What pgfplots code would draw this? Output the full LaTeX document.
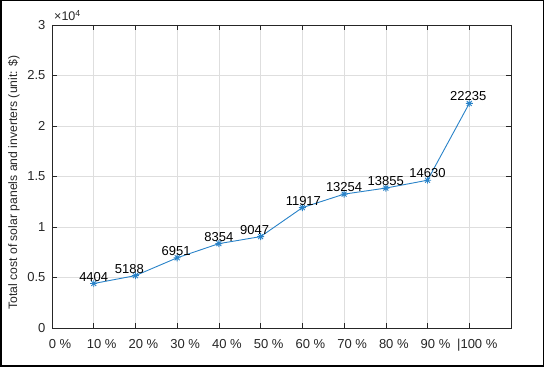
\documentclass[border=0pt]{standalone}
\usepackage{pgfplots}
\pgfplotsset{compat=1.18}
\usepackage{pgfplotstable}
\usepackage{fontspec}
\setmainfont{Liberation Sans}

\pgfplotstableread{
x y dx
1 4404 0
2 5188 -6
3 6951 -1
4 8354 0
5 9047 -6
6 11917 1
7 13254 0
8 13855 0
9 14630 0
10 22235 -1
}\datatable

\definecolor{mblue}{RGB}{40,130,200}
\definecolor{axgray}{RGB}{38,38,38}
\definecolor{gridgray}{RGB}{222,222,222}

\pgfdeclareplotmark{mstar}{%
  \pgfpathmoveto{\pgfqpoint{\pgfplotmarksize}{0pt}}%
  \pgfpathlineto{\pgfqpoint{-\pgfplotmarksize}{0pt}}%
  \pgfpathmoveto{\pgfqpoint{0pt}{\pgfplotmarksize}}%
  \pgfpathlineto{\pgfqpoint{0pt}{-\pgfplotmarksize}}%
  \pgfpathmoveto{\pgfqpoint{0.707\pgfplotmarksize}{0.707\pgfplotmarksize}}%
  \pgfpathlineto{\pgfqpoint{-0.707\pgfplotmarksize}{-0.707\pgfplotmarksize}}%
  \pgfpathmoveto{\pgfqpoint{-0.707\pgfplotmarksize}{0.707\pgfplotmarksize}}%
  \pgfpathlineto{\pgfqpoint{0.707\pgfplotmarksize}{-0.707\pgfplotmarksize}}%
  \pgfusepathqstroke}

\begin{document}
\begin{tikzpicture}
\draw[line width=1.5pt] (0.75pt,0.75pt) rectangle (543.25pt,366.25pt);
\begin{axis}[
  at={(52pt,39pt)}, anchor=south west,
  scale only axis, width=459pt, height=303pt,
  xmin=0, xmax=11, ymin=0, ymax=30000,
  xtick={0,...,11},
  xticklabels={0 \%,10 \%,20 \%,30 \%,40 \%,50 \%,60 \%,70 \%,80 \%,90 \%,\textbar100 \%,{}},
  ytick={0,5000,...,30000},
  yticklabels={0,0.5,1,1.5,2,2.5,3},
  scaled y ticks=false,
  tick pos=both, tick align=inside, major tick length=5pt,
  tick style={axgray, line width=0.6pt},
  axis line style={axgray, line width=0.8pt},
  grid=major, major grid style={gridgray, line width=0.5pt},
  ticklabel style={font=\fontsize{13}{15}\selectfont, text=axgray},
  xticklabel style={xshift=8pt, yshift=-7.5pt},
  yticklabel style={xshift=-3pt},
  every axis y label/.style={at={(axis description cs:-0.0828,0.48)}, rotate=90, anchor=center, font=\fontsize{12.2}{14}\selectfont, text=axgray},
  ylabel={Total cost of solar panels and inverters (unit: \$)},
  clip=false,
]
\addplot[mblue, line width=0.9pt, mark=mstar, mark size=3.5pt,
  nodes near coords, point meta=explicit symbolic,
  visualization depends on={\thisrow{dx} \as \dx},
  every node near coord/.append style={font=\fontsize{13}{15}\selectfont, text=black, anchor=base, inner sep=0pt, yshift=2.5pt, xshift=\dx pt}]
  table[x=x, y=y, meta=y] {\datatable};
\node[anchor=base west, font=\fontsize{12.5}{14}\selectfont, text=axgray, inner sep=0pt] at ([xshift=2pt,yshift=4pt]rel axis cs:0,1) {×10\textsuperscript{4}};
\end{axis}
\end{tikzpicture}
\end{document}
